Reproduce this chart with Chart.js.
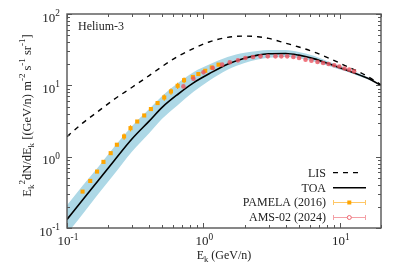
<!DOCTYPE html>
<html>
<head>
<meta charset="utf-8">
<script src="https://cdn.jsdelivr.net/npm/chart.js@4.4.1/dist/chart.umd.min.js"></script>
<style>
  html, body { margin: 0; padding: 0; background: #fff; }
  #wrap { width: 399px; height: 279px; }
</style>
</head>
<body>
<div id="wrap"><canvas id="heChart" width="399" height="279"></canvas></div>
<script>
// model curves, E^2 dN/dE vs kinetic energy per nucleon
const energies = [0.1, 0.13, 0.17, 0.22, 0.3, 0.4, 0.5, 0.65, 0.85, 1.1, 1.5, 2, 2.5, 3, 4, 5, 6.5, 8.5, 11, 14, 17, 20];
const lisFlux  = [1.91, 2.95, 4.35, 6.3, 9.4, 13.7, 18.5, 25.5, 33, 40.5, 47.1, 49, 48, 45.5, 39, 34.5, 29.2, 23.6, 18.8, 15.2, 12.4, 10.2];
const toaFlux  = [0.132, 0.247, 0.468, 0.863, 1.78, 3.15, 4.95, 7.5, 10.9, 14.5, 19.8, 24.0, 26.5, 27.7, 28.0, 26.5, 23.5, 19.7, 16.6, 13.9, 11.9, 9.9];
const bandHigh = [0.209, 0.391, 0.725, 1.34, 2.69, 4.66, 7.15, 10.8, 15.4, 19.6, 25.0, 28.6, 30.4, 31.4, 31.4, 29.4, 25.8, 21.1, 17.6, 14.5, 12.2, 9.95];
const bandLow  = [0.083, 0.156, 0.302, 0.557, 1.18, 2.13, 3.43, 5.31, 8.2, 11.6, 16.6, 20.6, 23.1, 24.4, 25.0, 23.9, 21.4, 18.4, 15.7, 13.3, 11.6, 9.85];

// PAMELA (2016)
const pamelaE    = [0.130, 0.148, 0.166, 0.185, 0.209, 0.232, 0.262, 0.292, 0.327, 0.368, 0.412, 0.461, 0.516, 0.578, 0.647, 0.721, 0.836, 0.918, 1.03, 1.15, 1.29];
const pamelaFlux = [0.324, 0.457, 0.618, 0.845, 1.12, 1.47, 1.92, 2.51, 3.11, 3.78, 4.65, 5.64, 6.76, 8.21, 9.86, 11.8, 13.1, 14.4, 16.0, 17.8, 19.5];
const pamelaErr  = [0.01, 0.015, 0.02, 0.03, 0.04, 0.05, 0.2, 0.25, 0.1, 0.12, 0.15, 0.2, 0.7, 0.85, 1.0, 1.1, 0.5, 0.5, 0.6, 0.6, 0.6];

// AMS-02 (2024)
const amsE    = [0.713, 0.844, 1.0, 1.17, 1.37, 1.56, 1.79, 2.03, 2.31, 2.62, 2.96, 3.37, 3.72, 4.11, 4.56, 5.02, 5.6, 6.18, 6.85, 7.53, 8.26, 9.08, 9.89, 10.8, 11.7, 12.7];
const amsFlux = [9.66, 12.4, 15.2, 17.5, 19.5, 21.0, 22.4, 24.2, 24.9, 25.5, 25.5, 25.5, 25.5, 25.5, 24.9, 24.2, 22.9, 22.2, 21.2, 20.6, 19.9, 19.1, 18.4, 17.2, 16.6, 15.7];

// axis ticks (value, exponent label)
const xTicks = [0.1, 1, 10];
const xTickExp = ['-1', '0', '1'];
const yTicks = [0.1, 1, 10, 100];
const yTickExp = ['-1', '0', '1', '2'];

const SERIF = '"Liberation Serif", "Times New Roman", serif';
const pts = (xs, ys) => xs.map((x, i) => ({ x: x, y: ys[i] }));

// text with sub/superscripts; parts = [[text, 0|1|-1], ...]
function drawRich(ctx, parts, x, y, size, align) {
    let w = 0;
    parts.forEach(p => {
        ctx.font = (p[1] ? size * 0.72 : size) + 'px ' + SERIF;
        w += ctx.measureText(p[0]).width;
    });
    let cx = align === 'right' ? x - w : align === 'center' ? x - w / 2 : x;
    parts.forEach(p => {
        ctx.font = (p[1] ? size * 0.72 : size) + 'px ' + SERIF;
        const dy = p[1] === 1 ? -size * 0.42 : p[1] === -1 ? size * 0.25 : 0;
        ctx.fillText(p[0], cx, y + dy);
        cx += ctx.measureText(p[0]).width;
    });
}

const errorBars = {
    id: 'errorBars',
    beforeDatasetDraw(chart, args) {
        const ds = chart.data.datasets[args.index];
        if (!ds.errors) return;
        const ctx = chart.ctx, y = chart.scales.y;
        ctx.save();
        ctx.strokeStyle = ds.errColor;
        ctx.lineWidth = 1.2;
        ds.data.forEach((p, i) => {
            const px = chart.scales.x.getPixelForValue(p.x);
            ctx.beginPath();
            ctx.moveTo(px, y.getPixelForValue(p.y + ds.errors[i]));
            ctx.lineTo(px, y.getPixelForValue(p.y - ds.errors[i]));
            ctx.stroke();
        });
        ctx.restore();
    }
};

const frame = {
    id: 'frame',
    afterDraw(chart) {
        const ctx = chart.ctx, a = chart.chartArea;
        const xs = chart.scales.x, ys = chart.scales.y;
        ctx.save();
        ctx.strokeStyle = '#555';
        ctx.lineWidth = 1.4;
        ctx.strokeRect(a.left, a.top, a.right - a.left, a.bottom - a.top);

        ctx.lineWidth = 1;
        ctx.beginPath();
        for (let d = -1; d <= 1; d++) {
            for (let m = 1; m <= 9; m++) {
                const v = m * Math.pow(10, d);
                if (v < xs.min || v > xs.max) continue;
                const px = Math.round(xs.getPixelForValue(v)) + 0.5;
                const len = m === 1 ? 5 : 3;
                ctx.moveTo(px, a.bottom); ctx.lineTo(px, a.bottom - len);
                ctx.moveTo(px, a.top); ctx.lineTo(px, a.top + len);
            }
        }
        for (let d = -1; d <= 2; d++) {
            for (let m = 1; m <= 9; m++) {
                const v = m * Math.pow(10, d);
                if (v < ys.min || v > ys.max) continue;
                const py = Math.round(ys.getPixelForValue(v)) + 0.5;
                const len = m === 1 ? 5 : 3;
                ctx.moveTo(a.left, py); ctx.lineTo(a.left + len, py);
                ctx.moveTo(a.right, py); ctx.lineTo(a.right - len, py);
            }
        }
        ctx.stroke();

        ctx.fillStyle = '#222';
        ctx.textBaseline = 'alphabetic';
        xTicks.forEach((v, i) => {
            drawRich(ctx, [['10', 0], [xTickExp[i], 1]], xs.getPixelForValue(v) + 1, a.bottom + 17, 13, 'center');
        });
        yTicks.forEach((v, i) => {
            drawRich(ctx, [['10', 0], [yTickExp[i], 1]], a.left - 7, ys.getPixelForValue(v) + 7.5, 13, 'right');
        });

        // axis titles
        drawRich(ctx, [['E', 0], ['k', -1], [' (GeV/n)', 0]], (a.left + a.right) / 2, 258.5, 12, 'center');
        ctx.save();
        ctx.translate(30.5, 115.5);
        ctx.rotate(-Math.PI / 2);
        drawRich(ctx, [['E', 0], ['k', -1], ['2', 1], ['dN/dE', 0], ['k', -1], [' [(GeV/n) m', 0], ['-2', 1],
            [' s', 0], ['-1', 1], [' sr', 0], ['-1', 1], [']', 0]], 0, 0, 12.5, 'center');
        ctx.restore();

        // panel label
        ctx.font = '12px ' + SERIF;
        ctx.fillText('Helium-3', 78, 30);

        // legend
        const rows = [172.7, 187.7, 202, 217];
        const names = ['LIS', 'TOA', 'PAMELA (2016)', 'AMS-02 (2024)'];
        ctx.textAlign = 'right';
        names.forEach((n, i) => ctx.fillText(n, 326, rows[i] + 4));
        ctx.textAlign = 'left';
        ctx.strokeStyle = '#000';
        ctx.lineWidth = 1.3;
        ctx.setLineDash([5, 5]);
        ctx.beginPath(); ctx.moveTo(333, rows[0]); ctx.lineTo(362, rows[0]); ctx.stroke();
        ctx.setLineDash([]);
        ctx.lineWidth = 1.5;
        ctx.beginPath(); ctx.moveTo(333, rows[1]); ctx.lineTo(366, rows[1]); ctx.stroke();
        [['#ffc766', rows[2]], ['#f4a0a6', rows[3]]].forEach(r => {
            ctx.strokeStyle = r[0];
            ctx.lineWidth = 1;
            ctx.beginPath();
            ctx.moveTo(333, r[1] + 0.5); ctx.lineTo(366, r[1] + 0.5);
            ctx.moveTo(333.5, r[1] - 2); ctx.lineTo(333.5, r[1] + 3);
            ctx.moveTo(365.5, r[1] - 2); ctx.lineTo(365.5, r[1] + 3);
            ctx.stroke();
        });
        ctx.fillStyle = '#ffa500';
        ctx.fillRect(347.3, rows[2] - 1.5, 4, 4);
        ctx.fillStyle = '#fff';
        ctx.strokeStyle = '#ee6670';
        ctx.beginPath(); ctx.arc(349.3, rows[3] + 0.5, 2, 0, Math.PI * 2); ctx.fill(); ctx.stroke();
        ctx.restore();
    }
};

new Chart(document.getElementById('heChart'), {
    type: 'line',
    data: {
        datasets: [{
            label: 'AMS-02 (2024)',
            data: pts(amsE, amsFlux),
            showLine: false,
            pointStyle: 'circle',
            pointRadius: 2.3,
            pointBorderWidth: 0,
            pointBackgroundColor: 'rgba(236,82,94,0.8)',
            order: 0
        }, {
            label: 'PAMELA (2016)',
            data: pts(pamelaE, pamelaFlux),
            errors: pamelaErr,
            errColor: '#ffa500',
            showLine: false,
            pointStyle: 'rect',
            pointRadius: 2.9,
            pointBorderWidth: 0,
            pointBackgroundColor: '#ffa500',
            order: 1
        }, {
            label: 'TOA',
            data: pts(energies, toaFlux),
            borderColor: '#000',
            borderWidth: 1.6,
            pointRadius: 0,
            cubicInterpolationMode: 'monotone',
            order: 2
        }, {
            label: 'LIS',
            data: pts(energies, lisFlux),
            borderColor: '#000',
            borderWidth: 1.4,
            borderDash: [5, 5],
            pointRadius: 0,
            cubicInterpolationMode: 'monotone',
            order: 3
        }, {
            label: 'band high',
            data: pts(energies, bandHigh),
            borderWidth: 0,
            borderColor: 'rgba(0,0,0,0)',
            backgroundColor: '#add8e6',
            fill: '+1',
            pointRadius: 0,
            cubicInterpolationMode: 'monotone',
            order: 4
        }, {
            label: 'band low',
            data: pts(energies, bandLow),
            borderWidth: 0,
            borderColor: 'rgba(0,0,0,0)',
            pointRadius: 0,
            fill: false,
            cubicInterpolationMode: 'monotone',
            order: 5
        }]
    },
    options: {
        responsive: false,
        animation: false,
        layout: { padding: { left: 67, right: 18, top: 14, bottom: 51 } },
        scales: {
            x: { type: 'logarithmic', min: 0.1, max: 20, display: false },
            y: { type: 'logarithmic', min: 0.1, max: 100, display: false }
        },
        plugins: {
            legend: { display: false },
            tooltip: { enabled: false }
        }
    },
    plugins: [errorBars, frame]
});
</script>
</body>
</html>
